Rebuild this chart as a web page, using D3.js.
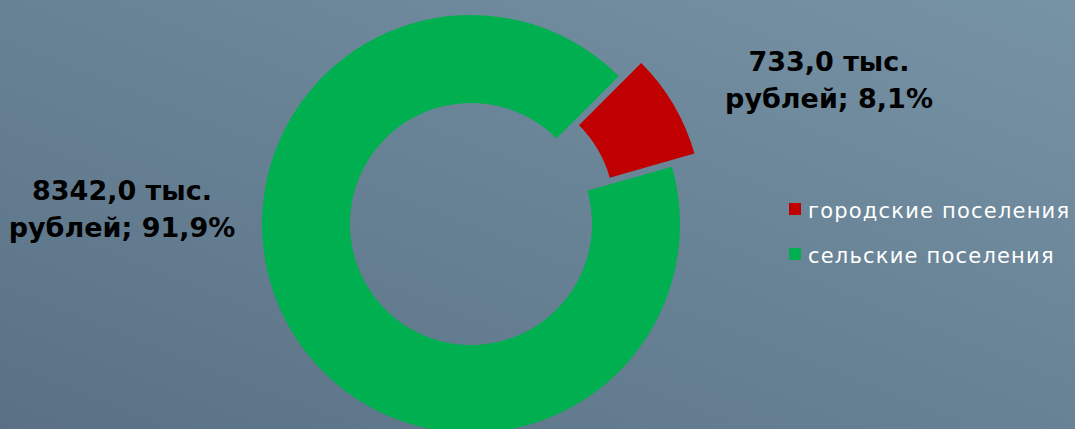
<!DOCTYPE html>
<html>
<head>
<meta charset="utf-8">
<script src="https://cdn.jsdelivr.net/npm/d3@7"></script>
<style>
  html, body { margin: 0; padding: 0; }
  body { width: 1075px; height: 429px; overflow: hidden; }
  svg { display: block; }
</style>
</head>
<body>
<svg id="chart" width="1075" height="429"></svg>
<script>
// data
var categories = ["городские поселения", "сельские поселения"];
var values = [733.0, 8342.0];
var percents = ["8,1%", "91,9%"];
var valueLabels = ["733,0 тыс.", "8342,0 тыс."];
var colors = ["#c00000", "#00b050"];

var W = 1075, H = 429;
var svg = d3.select("#chart");

// background gradient
var defs = svg.append("defs");
var grad = defs.append("linearGradient")
    .attr("id", "bg")
    .attr("x1", "100%").attr("y1", "0%")
    .attr("x2", "0%").attr("y2", "100%");
grad.append("stop").attr("offset", "0%").attr("stop-color", "#7693a5");
grad.append("stop").attr("offset", "100%").attr("stop-color", "#5a7185");
svg.append("rect").attr("width", W).attr("height", H).attr("fill", "url(#bg)");

var cx = 471, cy = 224;
var rOuter = 209, rInner = 121;
var startDeg = 45;      // angle of first slice
var explode = 26;       // red slice pulled out

var pie = d3.pie()
    .sort(null)
    .value(function (d) { return d; })
    .startAngle(startDeg * Math.PI / 180)
    .endAngle((startDeg + 360) * Math.PI / 180);

var arc = d3.arc().innerRadius(rInner).outerRadius(rOuter);
var arcs = pie(values);

var g = svg.append("g").attr("transform", "translate(" + cx + "," + cy + ")");

g.selectAll("path.slice")
    .data(arcs)
    .enter().append("path")
    .attr("class", "slice")
    .attr("d", arc)
    .attr("fill", function (d, i) { return colors[i]; })
    .attr("transform", function (d, i) {
        if (i !== 0) return null;
        var mid = (d.startAngle + d.endAngle) / 2;
        return "translate(" + (explode * Math.sin(mid)) + "," + (-explode * Math.cos(mid)) + ")";
    });

// data labels
var labelFont = "'DejaVu Sans', sans-serif";
var labelPos = [[829, 71], [122, 200]];
arcs.forEach(function (d, i) {
    var t = svg.append("text")
        .attr("x", labelPos[i][0])
        .attr("y", labelPos[i][1])
        .attr("text-anchor", "middle")
        .style("font-family", labelFont)
        .style("font-weight", "bold")
        .style("font-size", "27px")
        .style("fill", "#000");
    t.append("tspan").attr("x", labelPos[i][0]).text(valueLabels[i]);
    t.append("tspan").attr("x", labelPos[i][0]).attr("dy", 37).text("рублей; " + percents[i]);
});

// legend
var legend = svg.append("g").attr("transform", "translate(789,203)");
var items = legend.selectAll("g.item")
    .data(categories)
    .enter().append("g")
    .attr("class", "item")
    .attr("transform", function (d, i) { return "translate(0," + (i * 45) + ")"; });

items.append("rect")
    .attr("width", 12).attr("height", 12)
    .attr("fill", function (d, i) { return colors[i]; });

items.append("text")
    .attr("x", 19)
    .attr("y", 15)
    .style("font-family", "'DejaVu Sans', sans-serif")
    .style("font-size", "21px")
    .style("letter-spacing", "1.2px")
    .style("fill", "#ffffff")
    .text(function (d) { return d; });
</script>
</body>
</html>
